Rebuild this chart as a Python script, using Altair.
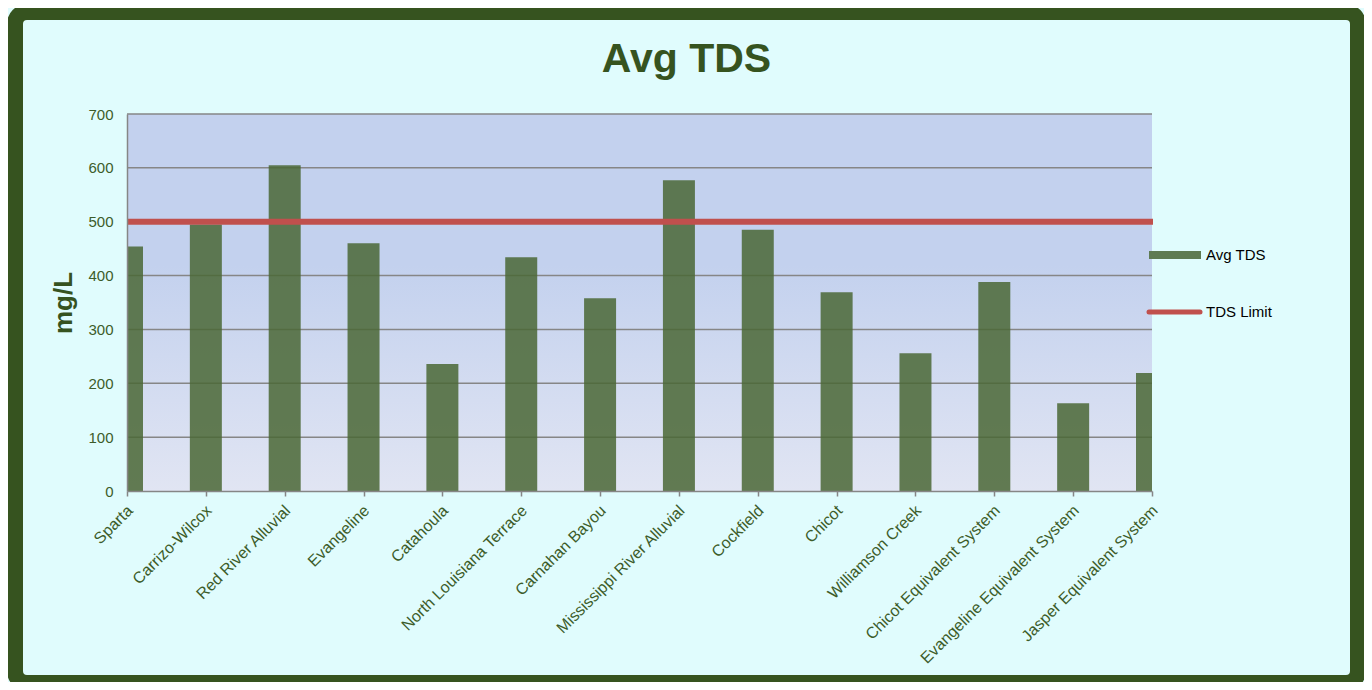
import altair as alt
import pandas as pd

# ---- data -------------------------------------------------------------
AQUIFERS = [
    "Sparta", "Carrizo-Wilcox", "Red River Alluvial", "Evangeline", "Catahoula",
    "North Louisiana Terrace", "Carnahan Bayou", "Mississippi River Alluvial",
    "Cockfield", "Chicot", "Williamson Creek", "Chicot Equivalent System",
    "Evangeline Equivalent System", "Jasper Equivalent System",
]
AVG_TDS = [454, 495, 605, 460, 236, 434, 358, 577, 485, 369, 256, 388, 163, 219]
TDS_LIMIT = [500]
Y_TICKS = [0, 100, 200, 300, 400, 500, 600, 700]
SERIES = ["Avg TDS", "TDS Limit"]
TITLE = "Avg TDS"
Y_TITLE = "mg/L"

# ---- styling ----------------------------------------------------------
W, H = 1025, 377
FONT = "Liberation Sans"
DARK = "#36531f"
LABEL = "#3d5c2a"
BAR = "#4a6735"
RED = "#c0504d"
GRID = "#868686"
CYAN = "#e0fcfd"

df = pd.DataFrame({"aquifer": AQUIFERS, "tds": AVG_TDS})
lim = pd.DataFrame({"limit": TDS_LIMIT})
grid = pd.DataFrame({"g": Y_TICKS[1:]})
one = pd.DataFrame({"k": [0]})

yscale = alt.Scale(domain=[Y_TICKS[0], Y_TICKS[-1]], nice=False, zero=True)
yaxis = alt.Axis(
    values=Y_TICKS, grid=False, ticks=False, labelPadding=14, labelFontSize=15,
    labelColor=LABEL, labelFont=FONT, domainColor=GRID, domainWidth=1.5,
    title=Y_TITLE, titleFont=FONT, titleFontSize=26, titleFontWeight="bold",
    titleColor=DARK, titleX=-64, titleY=H / 2, titleAlign="center",
    titleBaseline="middle", titleAngle=270, zindex=1,
)

background = alt.Chart(one).mark_rect(
    fill=alt.Gradient(
        gradient="linear",
        stops=[
            alt.GradientStop(color="#c3d1ee", offset=0),
            alt.GradientStop(color="#c3d1ee", offset=0.4),
            alt.GradientStop(color="#e1e5f3", offset=1),
        ],
        x1=0, x2=0, y1=0, y2=1,
    )
).encode(x=alt.value(0), x2=alt.value(W), y=alt.value(0), y2=alt.value(H))

gridlines = alt.Chart(grid).mark_rule(color=GRID, strokeWidth=1.5).encode(
    y=alt.Y("g:Q", scale=yscale, axis=yaxis),
    x=alt.value(0), x2=alt.value(W),
)

bars = alt.Chart(df).mark_bar(color=BAR, opacity=0.85, width=32, clip=True).encode(
    x=alt.X(
        "aquifer:N", sort=AQUIFERS,
        scale=alt.Scale(type="point", padding=0),
        axis=alt.Axis(
            title=None, labelAngle=-45, labelAlign="right", labelFontSize=16,
            labelColor=LABEL, labelFont=FONT, labelPadding=6, labelOffset=-3,
            tickSize=5, tickColor=GRID, tickWidth=1.5, domainColor=GRID,
            domainWidth=1.5, zindex=1, labelOverlap=False, labelLimit=1000,
        ),
    ),
    y=alt.Y("tds:Q", scale=yscale, axis=yaxis),
)

limit = alt.Chart(lim).mark_rule(color=RED, strokeWidth=6).encode(
    y=alt.Y("limit:Q", scale=yscale, axis=yaxis),
    x=alt.value(0), x2=alt.value(W + 1),
)

leg_bar = alt.Chart(one).mark_rect(color="#5e7b53").encode(
    x=alt.value(1022), x2=alt.value(1074), y=alt.value(137), y2=alt.value(145)
)
leg_line = alt.Chart(one).mark_rule(color=RED, strokeWidth=5, strokeCap="round").encode(
    x=alt.value(1022), x2=alt.value(1073), y=alt.value(198)
)
leg_t1 = alt.Chart(one).mark_text(
    text=SERIES[0], align="left", baseline="middle", font=FONT, fontSize=15, color="#000000"
).encode(x=alt.value(1079), y=alt.value(141))
leg_t2 = alt.Chart(one).mark_text(
    text=SERIES[1], align="left", baseline="middle", font=FONT, fontSize=15, color="#000000"
).encode(x=alt.value(1079), y=alt.value(198))

title = alt.Chart(one).mark_text(
    text=TITLE, align="center", baseline="alphabetic", font=FONT, fontSize=41,
    fontWeight="bold", color=DARK,
).encode(x=alt.value(559.5), y=alt.value(-42))

frame = alt.Chart(one).mark_rect(
    fillOpacity=0, stroke=DARK, strokeWidth=16, cornerRadius=12
).encode(x=alt.value(-112), x2=alt.value(1231), y=alt.value(-102), y2=alt.value(569))

chart = alt.layer(
    background, gridlines, bars, limit, leg_bar, leg_line, leg_t1, leg_t2, title, frame
).properties(
    width=W, height=H,
    autosize=alt.AutoSizeParams(type="none"),
    padding={"left": 119, "top": 106, "right": 212, "bottom": 191},
    background=CYAN,
).configure_view(stroke=None)

chart.save("out.html", embed_options={"renderer": "svg", "actions": False})
